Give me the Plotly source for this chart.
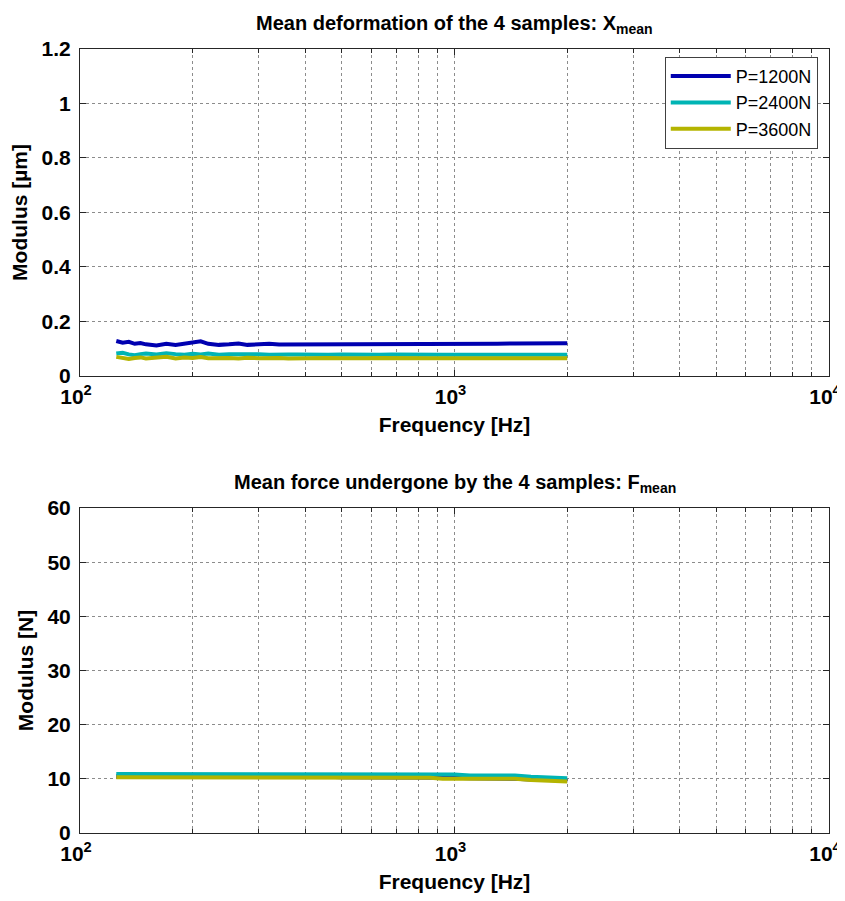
import plotly.graph_objects as go
from plotly.subplots import make_subplots

freq = [125, 130, 135, 140, 145, 150, 160, 170, 180, 190, 200, 210, 220, 235, 250, 265,
        280, 300, 320, 340, 360, 380, 400, 430, 460, 500, 540, 580, 630, 680, 730, 800,
        860, 930, 1000, 1100, 1200, 1300, 1450, 1600, 1800, 2000]

x_1200 = [0.128, 0.122, 0.125, 0.118, 0.121, 0.116, 0.112, 0.118, 0.114, 0.118, 0.120, 0.127,
          0.118, 0.114, 0.116, 0.119, 0.114, 0.116, 0.118, 0.115, 0.115, 0.117, 0.116, 0.117,
          0.115, 0.116, 0.117, 0.116, 0.117, 0.117, 0.116, 0.117, 0.116, 0.117, 0.116, 0.117,
          0.118, 0.118, 0.119, 0.119, 0.120, 0.120]
x_2400 = [0.082, 0.085, 0.079, 0.076, 0.080, 0.082, 0.079, 0.083, 0.080, 0.078, 0.081, 0.079,
          0.082, 0.078, 0.080, 0.081, 0.079, 0.080, 0.078, 0.080, 0.079, 0.079, 0.078, 0.079,
          0.078, 0.079, 0.078, 0.079, 0.078, 0.079, 0.078, 0.078, 0.079, 0.078, 0.078, 0.078,
          0.079, 0.078, 0.078, 0.078, 0.079, 0.078]
x_3600 = [0.070, 0.066, 0.062, 0.066, 0.068, 0.064, 0.067, 0.070, 0.064, 0.068, 0.066, 0.069,
          0.065, 0.067, 0.066, 0.064, 0.067, 0.065, 0.066, 0.066, 0.064, 0.065, 0.066, 0.065,
          0.066, 0.065, 0.064, 0.065, 0.066, 0.065, 0.065, 0.065, 0.065, 0.065, 0.065, 0.065,
          0.065, 0.065, 0.065, 0.065, 0.065, 0.065]

f_1200 = [10.5, 10.5, 10.5, 10.5, 10.5, 10.5, 10.5, 10.5, 10.5, 10.5, 10.5, 10.5, 10.5, 10.5,
          10.5, 10.5, 10.4, 10.4, 10.4, 10.4, 10.4, 10.4, 10.4, 10.4, 10.4, 10.3, 10.3, 10.3,
          10.3, 10.3, 10.3, 10.2, 10.2, 10.2, 10.2, 10.1, 10.1, 10.0, 10.0, 9.9, 9.8, 9.7]
f_2400 = [10.9, 10.9, 10.9, 10.9, 10.9, 10.9, 10.9, 10.9, 10.9, 10.9, 10.9, 10.9, 10.9, 10.9,
          10.9, 10.9, 10.9, 10.9, 10.9, 10.9, 10.8, 10.8, 10.8, 10.8, 10.8, 10.8, 10.8, 10.8,
          10.8, 10.8, 10.8, 10.8, 10.8, 10.8, 10.8, 10.6, 10.6, 10.6, 10.6, 10.4, 10.3, 10.1]
f_3600 = [10.3, 10.3, 10.3, 10.3, 10.3, 10.3, 10.3, 10.3, 10.3, 10.3, 10.3, 10.3, 10.3, 10.3,
          10.3, 10.3, 10.3, 10.3, 10.3, 10.2, 10.2, 10.2, 10.2, 10.2, 10.2, 10.2, 10.2, 10.2,
          10.2, 10.2, 10.2, 10.2, 10.2, 10.0, 10.0, 10.0, 10.0, 10.0, 10.0, 9.8, 9.6, 9.5]

labels = ["P=1200N", "P=2400N", "P=3600N"]
colors = ["#0000B0", "#00B4B4", "#B4B400"]

x_ticks = [100, 1000, 10000]
x_ticktext = ["10<sup>2</sup>", "10<sup>3</sup>", "10<sup>4</sup>"]
y1_ticks = [0, 0.2, 0.4, 0.6, 0.8, 1, 1.2]
y1_ticktext = ["0", "0.2", "0.4", "0.6", "0.8", "1", "1.2"]
y2_ticks = [0, 10, 20, 30, 40, 50, 60]

FONT = "Liberation Sans, Arial, sans-serif"

fig = make_subplots(rows=2, cols=1, vertical_spacing=0.17)

for lab, col, ys in zip(labels, colors, [x_1200, x_2400, x_3600]):
    fig.add_trace(go.Scatter(x=freq, y=ys, mode="lines", name=lab,
                             line=dict(color=col, width=4)), row=1, col=1)
for lab, col, ys in zip(labels, colors, [f_1200, f_2400, f_3600]):
    fig.add_trace(go.Scatter(x=freq, y=ys, mode="lines", name=lab, showlegend=False,
                             line=dict(color=col, width=4)), row=2, col=1)

axis_common = dict(showline=True, linecolor="#262626", linewidth=1, mirror="ticks",
                   ticks="inside", ticklen=6, tickcolor="#262626", automargin=False,
                   ticklabeloverflow="allow",
                   showgrid=True, gridcolor="#8c8c8c", griddash="dot", gridwidth=1,
                   zeroline=False, tickfont=dict(family=FONT, size=21, color="black"))

title_font = dict(family=FONT, size=21, color="black")

xaxis_cfg = dict(axis_common, type="log", range=[2, 4], tickvals=x_ticks,
                 ticktext=["<b>" + t + "</b>" for t in x_ticktext],
                 ticklabelshift=-4, ticklabelstandoff=2,
                 minor=dict(ticks="inside", ticklen=4, tickcolor="#262626", showgrid=True,
                            gridcolor="#8c8c8c", griddash="dot", dtick="D1"),
                 title=dict(text="<b>Frequency [Hz]</b>", font=title_font, standoff=10))

fig.update_xaxes(**xaxis_cfg)
fig.update_yaxes(**axis_common, ticklabelstandoff=4)

fig.update_layout(
    yaxis=dict(domain=[0.583, 1.0], range=[0, 1.2], tickvals=y1_ticks,
               ticktext=["<b>" + t + "</b>" for t in y1_ticktext],
               title=dict(text="<b>Modulus [µm]</b>", font=title_font, standoff=8)),
    yaxis2=dict(domain=[0.0, 0.4145], range=[0, 60], tickvals=y2_ticks,
                ticktext=["<b>%d</b>" % v for v in y2_ticks],
                title=dict(text="<b>Modulus [N]</b>", font=title_font, standoff=8)),
)

fig.add_annotation(text="<b>Mean deformation of the 4 samples: X<sub>mean</sub></b>",
                   xref="paper", yref="paper", x=0.5, y=1.0, yshift=10, xanchor="center", yanchor="bottom",
                   showarrow=False, font=dict(family=FONT, size=20, color="black"))
fig.add_annotation(text="<b>Mean force undergone by the 4 samples: F<sub>mean</sub></b>",
                   xref="paper", yref="paper", x=0.5, y=0.4145, yshift=10, xanchor="center", yanchor="bottom",
                   showarrow=False, font=dict(family=FONT, size=20, color="black"))

fig.update_layout(
    width=837, height=893,
    margin=dict(l=72, r=16, t=41, b=68),
    paper_bgcolor="white", plot_bgcolor="white",
    showlegend=True,
    legend=dict(x=0.985, y=0.99, xanchor="right", yanchor="top", bgcolor="white",
                bordercolor="#404040", borderwidth=1,
                font=dict(family=FONT, size=18, color="black"),
                tracegroupgap=0, itemwidth=60),
)

fig.write_html("out.html")
